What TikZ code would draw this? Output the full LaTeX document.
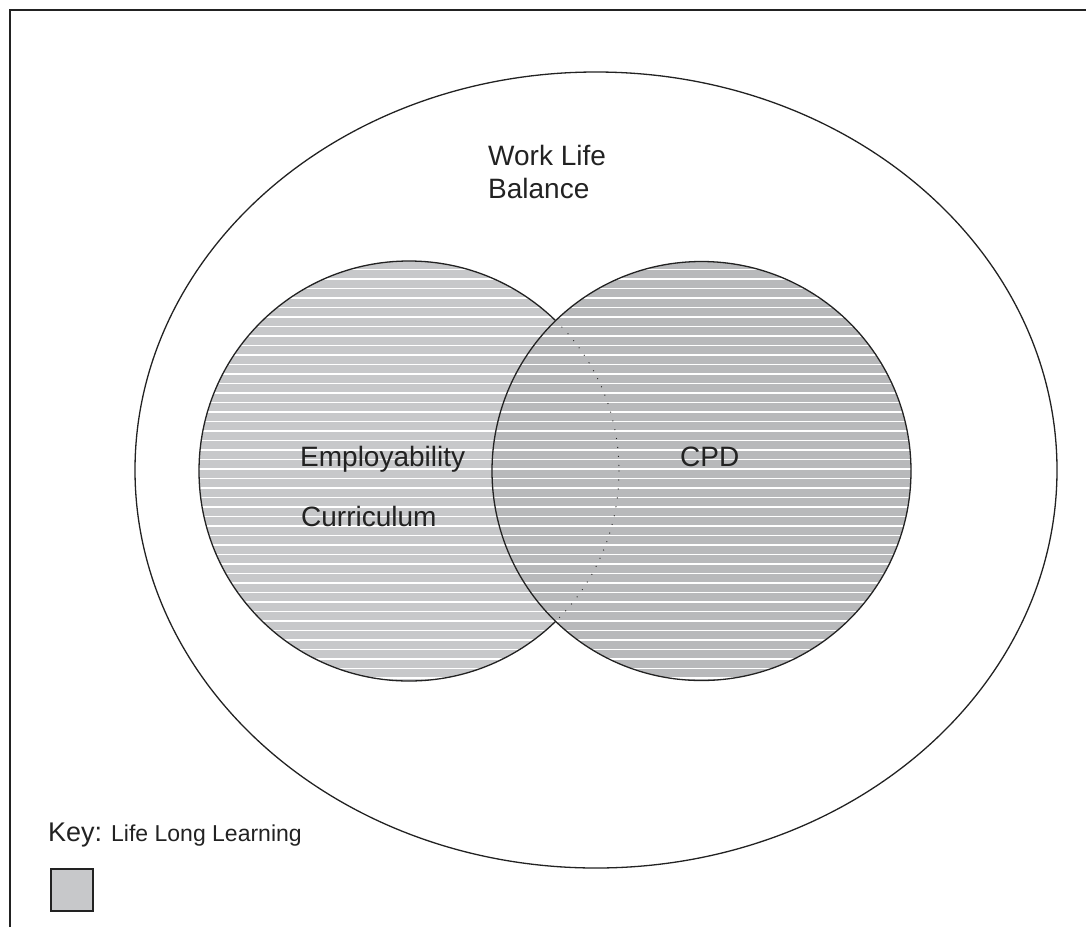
\documentclass[tikz,border=0pt]{standalone}
\usepackage{fontspec}
\setmainfont{Liberation Sans}
\definecolor{ink}{HTML}{222222}
\definecolor{lgray}{HTML}{C7C8CA}
\definecolor{dgray}{HTML}{B8B9BB}
\tikzset{
  outline/.style={draw=ink, line width=1.3pt},
  lbl/.style={anchor=base west, inner sep=0pt, text=ink, font=\fontsize{28}{34}\selectfont},
  stripes/.style={draw=white, line width=1.5pt}
}
\begin{document}
\begin{tikzpicture}[x=1pt,y=-1pt]
\useasboundingbox (0,0) rectangle (1086,927);
% frame (top and left edges)
\draw[ink, line width=1.6pt] (10,927) -- (10,10) -- (1086,10);
% outer ellipse
\draw[outline] (596,470) ellipse [x radius=461, y radius=398];
% left circle
\fill[lgray] (409,471) circle [radius=210];
\begin{scope}
  \clip (409,471) circle [radius=210];
  \foreach \i in {0,...,46} \draw[stripes] (190,259.8+9.5*\i) -- (630,259.8+9.5*\i);
\end{scope}
\draw[outline] (409,471) circle [radius=210];
% right circle
\fill[dgray] (701.5,471) circle [radius=209.5];
\begin{scope}
  \clip (701.5,471) circle [radius=209.5];
  \foreach \i in {0,...,46} \draw[stripes] (480,259.8+9.5*\i) -- (920,259.8+9.5*\i);
\end{scope}
\draw[outline] (701.5,471) circle [radius=209.5];
% hidden arc of the left circle
\begin{scope}
  \clip (701.5,471) circle [radius=208];
  \draw[ink, line width=1.3pt, line cap=round, dash pattern=on 0pt off 9pt] (409,471) circle [radius=210];
\end{scope}
% labels
\node[lbl] (work) at (488,165) {Work Life};
\node[lbl] (balance) at (488,198) {Balance};
\node[lbl] (employ) at (300,466) {Employability};
\node[lbl] (curr) at (301,526) {Curriculum};
\node[lbl] (cpd) at (680,466) {CPD};
\node[lbl, font=\fontsize{27}{32}\selectfont] (key) at (48,841) {Key:};
\node[lbl, font=\fontsize{23}{27}\selectfont] (lll) at (111,841) {Life Long Learning};
% key swatch
\draw[draw=ink, line width=1.2pt, fill=lgray] (51,869) rectangle (93,911);
\end{tikzpicture}
\end{document}
